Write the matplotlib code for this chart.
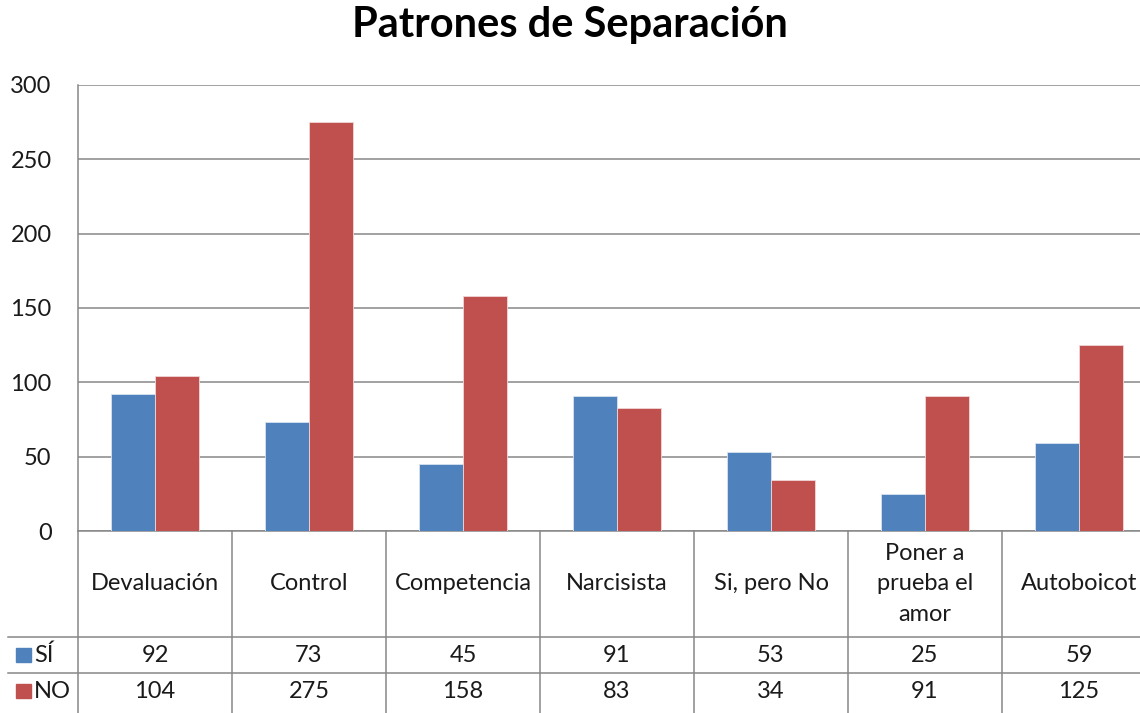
import matplotlib
matplotlib.use("Agg")
import matplotlib.pyplot as plt
from matplotlib.patches import Rectangle
import numpy as np

categories = ["Devaluación", "Control", "Competencia", "Narcisista",
              "Si, pero No", "Poner a\nprueba el\namor", "Autoboicot"]
si_values = [92, 73, 45, 91, 53, 25, 59]
no_values = [104, 275, 158, 83, 34, 91, 125]
series_names = ["SÍ", "NO"]
colors = ["#4F81BD", "#C0504D"]
yticks = [0, 50, 100, 150, 200, 250, 300]

plt.rcParams['font.family'] = ['Lato', 'DejaVu Sans']

W, H = 1140, 713
fig = plt.figure(figsize=(W / 100, H / 100), dpi=100)

# layout in pixels (matches the Excel-style chart)
left_px, cat_px = 78, 154
top_px, base_px = 85, 531
ax_w = 7 * cat_px / W
ax = fig.add_axes([left_px / W, (H - base_px) / H, ax_w, (base_px - top_px) / H])

x = np.arange(len(categories))
bw = 0.283
grid_col = "#878787"
txt_col = "#1a1a1a"
fs = 17

ax.bar(x - bw / 2, si_values, bw, color=colors[0], edgecolor="#d8e2ee", linewidth=0.6, zorder=3)
ax.bar(x + bw / 2, no_values, bw, color=colors[1], edgecolor="#f0d8d8", linewidth=0.6, zorder=3)

ax.set_xlim(-0.5, len(categories) - 0.5)
ax.set_ylim(0, 300)
ax.set_yticks(yticks)
ax.set_xticks([])
ax.yaxis.grid(True, color=grid_col, linewidth=1.1, zorder=0)
ax.tick_params(axis="y", length=0, pad=19, labelsize=fs, labelcolor=txt_col)
for s in ["top", "right"]:
    ax.spines[s].set_visible(False)
for s in ["left", "bottom"]:
    ax.spines[s].set_color(grid_col)
    ax.spines[s].set_linewidth(1.1)

fig.text(0.5, 1 - 25 / H, "Patrones de Separación", ha="center", va="center",
         fontsize=30, fontweight="bold", color="black")

# data table below the plot
tab_h = H - base_px
ax_t = fig.add_axes([left_px / W, 0, ax_w, tab_h / H])
ax_t.set_xlim(-0.5, len(categories) - 0.5)
ax_t.set_ylim(tab_h, 0)
ax_t.axis("off")


def px_x(p):
    return (p - left_px) / cat_px - 0.5


row_label_h, row_h = 106, 36
for k in range(len(categories) + 1):
    ax_t.plot([k - 0.5, k - 0.5], [0, tab_h], color=grid_col, lw=1.1, clip_on=False)
for yy in [row_label_h, row_label_h + row_h]:
    ax_t.plot([px_x(8), len(categories) - 0.5], [yy, yy], color=grid_col, lw=1.1, clip_on=False)

for i, c in enumerate(categories):
    ax_t.text(i, row_label_h / 2, c, ha="center", va="center", fontsize=fs,
              linespacing=1.55, color=txt_col)

for r, (name, vals) in enumerate(zip(series_names, [si_values, no_values])):
    yc = row_label_h + row_h * r + row_h / 2
    for i, v in enumerate(vals):
        ax_t.text(i, yc, str(v), ha="center", va="center", fontsize=fs, color=txt_col)
    sw = 15 / cat_px
    ax_t.add_patch(Rectangle((px_x(16), yc - 7), sw, 14, color=colors[r], clip_on=False))
    ax_t.text(px_x(34), yc, name, ha="left", va="center", fontsize=fs,
              color=txt_col, clip_on=False)

fig.savefig("out.png", dpi=100)
